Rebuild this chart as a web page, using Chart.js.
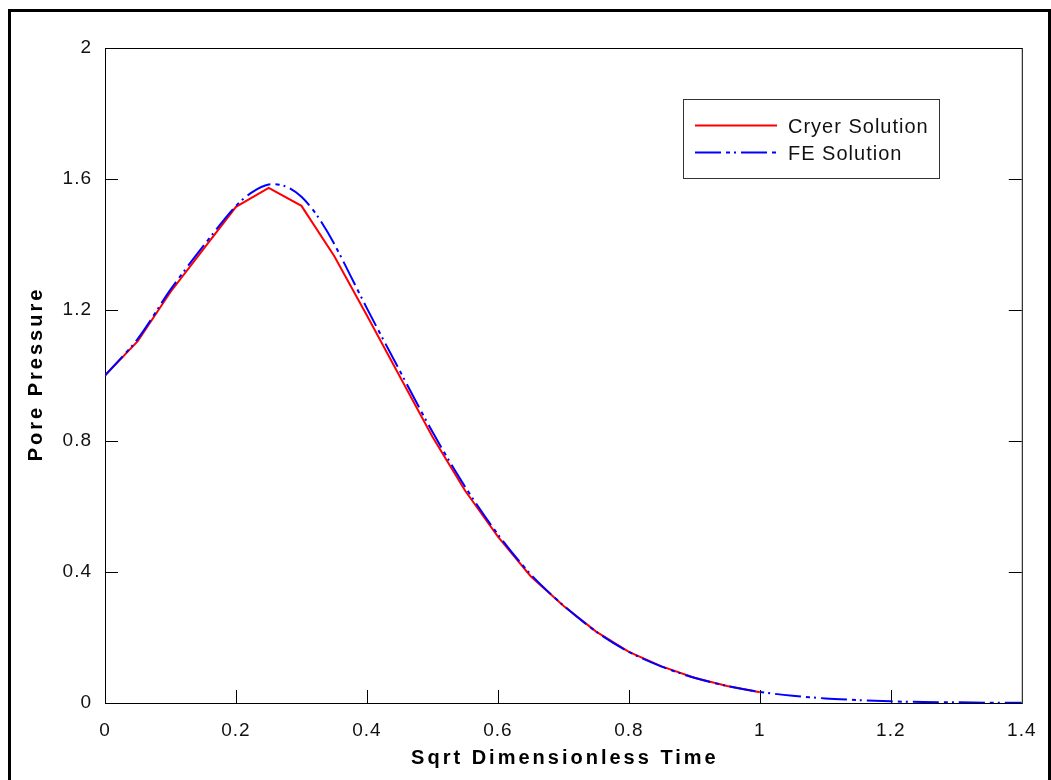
<!DOCTYPE html>
<html>
<head>
<meta charset="utf-8">
<script src="https://cdn.jsdelivr.net/npm/chart.js@4.4.0/dist/chart.umd.min.js"></script>
<style>
  html, body { margin: 0; padding: 0; background: #fff; }
  #wrap { position: relative; width: 1051px; height: 780px; overflow: hidden; }
  #chart { position: absolute; left: 0; top: 0; }
  #frame {
    position: absolute; left: 8px; top: 9px; width: 1043px; height: 800px;
    border: 3px solid #000; box-sizing: border-box; pointer-events: none;
  }
</style>
</head>
<body>
<div id="wrap">
  <canvas id="chart" width="1051" height="780"></canvas>
  <div id="frame"></div>
</div>

<script>
/* ================= DATA ================= */
const xTitle = "Sqrt Dimensionless Time";
const yTitle = "Pore Pressure";

const xTicks = [0, 0.2, 0.4, 0.6, 0.8, 1, 1.2, 1.4];
const yTicks = [0, 0.4, 0.8, 1.2, 1.6, 2];

// Cryer (analytical) solution
const cryerX = [0, 0.05, 0.1, 0.15, 0.2, 0.25, 0.3, 0.35, 0.4, 0.45, 0.5,
                0.55, 0.6, 0.65, 0.7, 0.75, 0.8, 0.85, 0.9, 0.95, 1.0];
const cryerY = [1.0, 1.105, 1.255, 1.385, 1.515, 1.573, 1.518, 1.365, 1.183, 0.998, 0.813,
                0.648, 0.508, 0.387, 0.297, 0.218, 0.156, 0.112, 0.077, 0.052, 0.033];

// FE solution
const feX = [0, 0.05, 0.1, 0.15, 0.2, 0.225, 0.25, 0.275, 0.3, 0.325, 0.35, 0.4,
             0.45, 0.5, 0.55, 0.6, 0.65, 0.7, 0.75, 0.8, 0.85, 0.9, 0.95, 1.0,
             1.05, 1.1, 1.15, 1.2, 1.25, 1.3, 1.35, 1.4];
const feY = [1.0, 1.112, 1.262, 1.395, 1.518, 1.560, 1.583, 1.578, 1.546, 1.485, 1.402, 1.205,
             1.015, 0.828, 0.660, 0.515, 0.393, 0.298, 0.218, 0.156, 0.111, 0.077, 0.052, 0.034,
             0.022, 0.014, 0.009, 0.005, 0.003, 0.002, 0.001, 0.0005];

const TICK_LEN = 13;

/* ================= PLUGINS ================= */
const frameAndTicks = {
  id: "frameAndTicks",
  beforeDraw(chart) {
    chart.ctx.letterSpacing = "1px";
  },
  beforeDatasetsDraw(chart) {
    const { ctx, chartArea: a, scales: { x, y } } = chart;
    ctx.save();
    ctx.strokeStyle = "#000";
    ctx.lineWidth = 1;
    ctx.strokeRect(a.left + 0.5, a.top + 0.5, a.right - a.left, a.bottom - a.top);
    ctx.beginPath();
    xTicks.slice(1, -1).forEach(v => {
      const px = Math.round(x.getPixelForValue(v)) + 0.5;
      ctx.moveTo(px, a.bottom);
      ctx.lineTo(px, a.bottom - TICK_LEN);
    });
    yTicks.slice(1, -1).forEach(v => {
      const py = Math.round(y.getPixelForValue(v)) + 0.5;
      ctx.moveTo(a.left, py);
      ctx.lineTo(a.left + TICK_LEN, py);
      ctx.moveTo(a.right, py);
      ctx.lineTo(a.right - TICK_LEN, py);
    });
    ctx.stroke();
    ctx.restore();
  },
  afterDraw(chart) {
    const { ctx, chartArea: a } = chart;
    ctx.save();

    // axis titles
    ctx.fillStyle = "#000";
    ctx.font = "bold 20px 'Liberation Sans', Arial, sans-serif";
    ctx.letterSpacing = "3px";
    ctx.textAlign = "center";
    ctx.textBaseline = "middle";
    ctx.fillText(xTitle, (a.left + a.right) / 2 + 1.5, 758);
    ctx.translate(36, (a.top + a.bottom) / 2);
    ctx.rotate(-Math.PI / 2);
    ctx.fillText(yTitle, 1.5, 0);
    ctx.restore();

    // legend box
    ctx.save();
    ctx.strokeStyle = "#333";
    ctx.lineWidth = 1;
    ctx.fillStyle = "#fff";
    ctx.fillRect(683, 99, 256, 79);
    ctx.strokeRect(683.5, 99.5, 256, 79);
    ctx.font = "20px 'Liberation Sans', Arial, sans-serif";
    ctx.letterSpacing = "1px";
    ctx.textBaseline = "alphabetic";
    const rows = [125, 152];
    chart.data.datasets
      .slice()
      .sort((p, q) => q.order - p.order)
      .forEach((ds, i) => {
        ctx.beginPath();
        ctx.strokeStyle = ds.borderColor;
        ctx.lineWidth = ds.borderWidth;
        ctx.setLineDash(ds.borderDash || []);
        ctx.moveTo(695, rows[i] + 0.5);
        ctx.lineTo(777, rows[i] + 0.5);
        ctx.stroke();
        ctx.setLineDash([]);
        ctx.fillStyle = "#111";
        ctx.fillText(ds.label, 788, rows[i] + 8);
      });
    ctx.restore();
    ctx.letterSpacing = "0px";
  }
};

/* ================= CHART ================= */
const toPoints = (xs, ys) => xs.map((v, i) => ({ x: v, y: ys[i] }));

new Chart(document.getElementById("chart"), {
  type: "line",
  data: {
    datasets: [
      {
        label: "Cryer Solution",
        data: toPoints(cryerX, cryerY),
        borderColor: "#ff0000",
        borderWidth: 2,
        pointRadius: 0,
        tension: 0,
        order: 1
      },
      {
        label: "FE Solution",
        data: toPoints(feX, feY),
        borderColor: "#0000ff",
        borderWidth: 2,
        borderDash: [26, 5, 4, 4, 2, 5],
        pointRadius: 0,
        tension: 0.3,
        order: 0
      }
    ]
  },
  options: {
    responsive: false,
    animation: false,
    layout: { padding: { top: 48, right: 27, bottom: 0, left: 0 } },
    plugins: {
      legend: { display: false },
      tooltip: { enabled: false }
    },
    scales: {
      x: {
        type: "linear",
        min: 0,
        max: 1.4,
        afterBuildTicks: s => { s.ticks = xTicks.map(v => ({ value: v })); },
        afterFit: s => { s.height = 77; },
        grid: { display: false, drawTicks: false },
        border: { display: false },
        ticks: {
          padding: 16,
          maxRotation: 0,
          color: "#111",
          font: { family: "'Liberation Sans', Arial, sans-serif", size: 19 },
          callback: v => String(v)
        }
      },
      y: {
        type: "linear",
        min: 0,
        max: 2,
        afterBuildTicks: s => { s.ticks = yTicks.map(v => ({ value: v })); },
        afterFit: s => { s.width = 105; },
        grid: { display: false, drawTicks: false },
        border: { display: false },
        ticks: {
          padding: 13,
          color: "#111",
          font: { family: "'Liberation Sans', Arial, sans-serif", size: 19 },
          callback: v => String(v)
        }
      }
    }
  },
  plugins: [frameAndTicks]
});
</script>
</body>
</html>
